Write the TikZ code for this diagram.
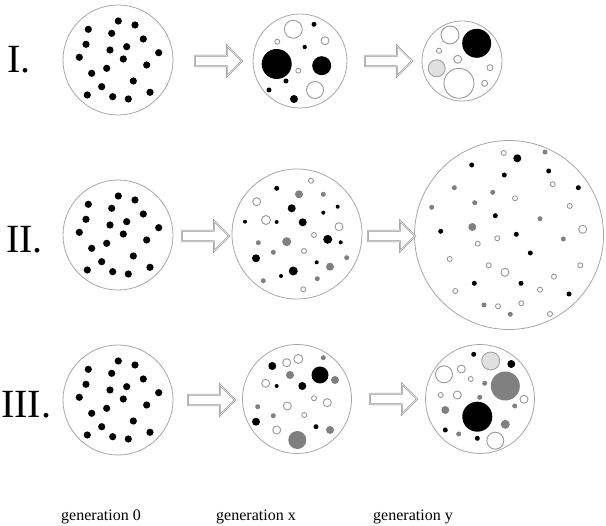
\documentclass[tikz,border=0pt]{standalone}
\usepackage{fontspec}
\setmainfont{Liberation Serif}
\usetikzlibrary{shapes.arrows}

\tikzset{
  gen/.style={circle, draw=black!35, line width=0.8pt, inner sep=0pt},
  hollowarrow/.style={single arrow, draw=black!45, line width=0.5pt, double=black!8,
    double distance=0.6pt, fill=white, inner sep=5pt, single arrow head extend=10pt,
    minimum height=47pt},
  blackdot/.style={fill=black},
  greydot/.style={fill=black!50},
  lightdot/.style={fill=black!12, draw=black!40, line width=0.8pt},
  opendot/.style={fill=white, draw=black!40, line width=0.9pt},
  rowlabel/.style={font=\fontsize{40}{40}\selectfont, anchor=base west, inner sep=0pt},
  genlabel/.style={font=\fontsize{16}{18}\selectfont, anchor=base, inner sep=0pt}
}

% dots of generation 0, relative to the centre
\newcommand{\genzerodots}{-29.7/-30.7, 0.3/-39, 17/-35, -6.3/-26.7, 25.3/-21,
  -32/-15.7, -8/-10, 8.7/-13.3, 40.7/-7.3, -38.7/-2.7, 5.3/-1, 28.7/5,
  -11.3/8.3, -26.3/13.3, 15.3/21, -16.3/26.7, -30.7/35, 32/32.3, -5.3/36.7, 10.3/39}

\begin{document}
\begin{tikzpicture}[x=1pt, y=-1pt]
\useasboundingbox (0,0) rectangle (606,526);

% row labels
\node[rowlabel] (rI)   at (7,73)  {I.};
\node[rowlabel] (rII)  at (6,253) {II.};
\node[rowlabel] (rIII) at (1,418) {III.};

% generation circles
\node[gen, minimum size=110pt] (g10) at (118,60)  {};
\node[gen, minimum size=94pt]  (g1x) at (300,61)  {};
\node[gen, minimum size=80pt]  (g1y) at (462,61)  {};
\node[gen, minimum size=110pt] (g20) at (118,235) {};
\node[gen, minimum size=130pt] (g2x) at (297,234) {};
\node[gen, minimum size=189pt] (g2y) at (509,235) {};
\node[gen, minimum size=110pt] (g30) at (118,400) {};
\node[gen, minimum size=109pt] (g3x) at (297,399) {};
\node[gen, minimum size=109pt] (g3y) at (480,399) {};

% arrows
\node[hollowarrow] (a1x) at (216,61)  {};
\node[hollowarrow] (a1y) at (386,61)  {};
\node[hollowarrow] (a2x) at (203,236) {};
\node[hollowarrow] (a2y) at (389,236) {};
\node[hollowarrow] (a3x) at (209,400) {};
\node[hollowarrow] (a3y) at (391,399) {};

% generation 0
\foreach \c in {g10, g20, g30}
  \foreach \dx/\dy in \genzerodots
    \fill[blackdot] ([shift={(\dx,\dy)}]\c.center) circle (3.6pt);

% row I
\foreach \x/\y/\r in {314/24.3/2.5, 304.7/47/2.2, 276.7/64/15, 321.7/65.7/9.5,
    286/81/2.5, 269/90/2.5, 294/99/4, 476.7/43.3/14.5}
  \fill[blackdot] (\x,\y) circle (\r pt);
\foreach \x/\y/\r in {293.3/29.3/9, 277.3/41.7/2.5, 325/40.7/4, 298.3/70.7/2.5,
    315/90/8.5, 450/35/9, 439/50.7/2.5, 457.7/59.3/4, 459/83.3/15, 490/67.7/3,
    484.7/83.3/3}
  \filldraw[opendot] (\x,\y) circle (\r pt);
\filldraw[lightdot] (436.7,68.3) circle (8.5pt);

% row II
\foreach \x/\y/\r in {276.7/188.3/2.5, 291.7/208.3/4, 337.7/206.7/2, 323.3/212.7/2,
    245/221.7/2, 276.7/222/2, 302.7/222.3/4, 327.7/239.3/4.5, 340.7/242.3/2,
    256/258.3/4, 316.7/262.3/2, 293.3/271/4.5, 281/276/2,
    517.3/158.3/4, 471.7/165/2.5, 504.3/175/2.5, 548.7/171/2.5, 578.3/187.7/2.5,
    495.3/215.7/2.5, 440.7/231.3/2.5, 516.3/234.3/2.5, 530.3/253/2.5,
    474.3/283.3/2.5, 521/283.3/2.5, 569/294/2.5}
  \fill[blackdot] (\x,\y) circle (\r pt);
\foreach \x/\y/\r in {299/194.3/4, 323.3/194.3/2.5, 286.7/241.7/4.5, 258.3/242.7/2.5,
    273.3/252.3/2.5, 346.7/257.7/2.5, 330/266.7/4, 263.3/280.7/2.5, 317.3/278.7/2.5,
    545/152/2.5, 454.3/187.7/2.5, 492.7/192.3/2.5, 474.7/202.7/2.5,
    431.7/207.3/2.5, 540/218.7/2.5, 472.3/227/4, 563.3/239/2.5, 484/305/2.5,
    510.3/314.3/2.5}
  \fill[greydot] (\x,\y) circle (\r pt);
\foreach \x/\y/\r in {311/180.7/2.5, 256.7/201.7/4, 266/220/4.5, 339/226.7/4,
    314/235/2.5, 304/251/2.5, 303.3/289.3/2.5,
    503.7/153/2.5, 552.7/184.3/2.5, 515/198.3/2.5, 569.7/206/2.5, 582.7/229.3/4,
    497.3/238.3/2.5, 477.7/243.7/2.5, 449.7/259/2.5, 488.7/265.3/2.5, 505/272.3/4,
    580.3/265.3/2.5, 554/276.7/2.5, 540/289.7/2.5, 455.3/291/2.5, 498/306.3/2.5,
    521.3/303.3/2.5, 550/314/2.5}
  \filldraw[opendot] (\x,\y) circle (\r pt);

% row III
\foreach \x/\y/\r in {272.3/366/4, 320/375/8.5, 276.7/386/2, 302.3/386/4, 256/421.7/4,
    316/426.7/2.5, 473.7/354.3/2.5, 511.3/364/4, 477.3/416.7/15, 445.3/430/2.5,
    477.3/438.3/2.5}
  \fill[blackdot] (\x,\y) circle (\r pt);
\foreach \x/\y/\r in {323.3/357.7/2.5, 290/375/4, 335/380/4, 257.7/406.7/2.5,
    273.3/415.7/2.5, 330/430/4, 297.3/440/9, 484.7/383.3/2.5, 505.3/386/14.5,
    479.7/397.3/2.5, 514.7/406/2.5, 445.3/410/4, 505.3/424.3/4.5, 458.7/434/2.5}
  \fill[greydot] (\x,\y) circle (\r pt);
\foreach \x/\y/\r in {298.3/359/4.5, 286.7/362.7/4, 265.7/383.3/4, 314/398.3/2.5,
    327.3/402.7/4, 287.3/406/4, 304.3/415/2.5, 276.7/430/4,
    444/374.3/8.5, 461.3/369/4, 470.7/379/2.5, 440.7/395/2.5, 457.3/395/4,
    524/399.3/4, 495.3/440.7/8.5}
  \filldraw[opendot] (\x,\y) circle (\r pt);
\filldraw[lightdot] (490.7,361) circle (9pt);

% generation labels
\node[genlabel] (l0) at (101,521) {generation 0};
\node[genlabel] (lx) at (256,521) {generation x};
\node[genlabel] (ly) at (413,521) {generation y};
\end{tikzpicture}
\end{document}
